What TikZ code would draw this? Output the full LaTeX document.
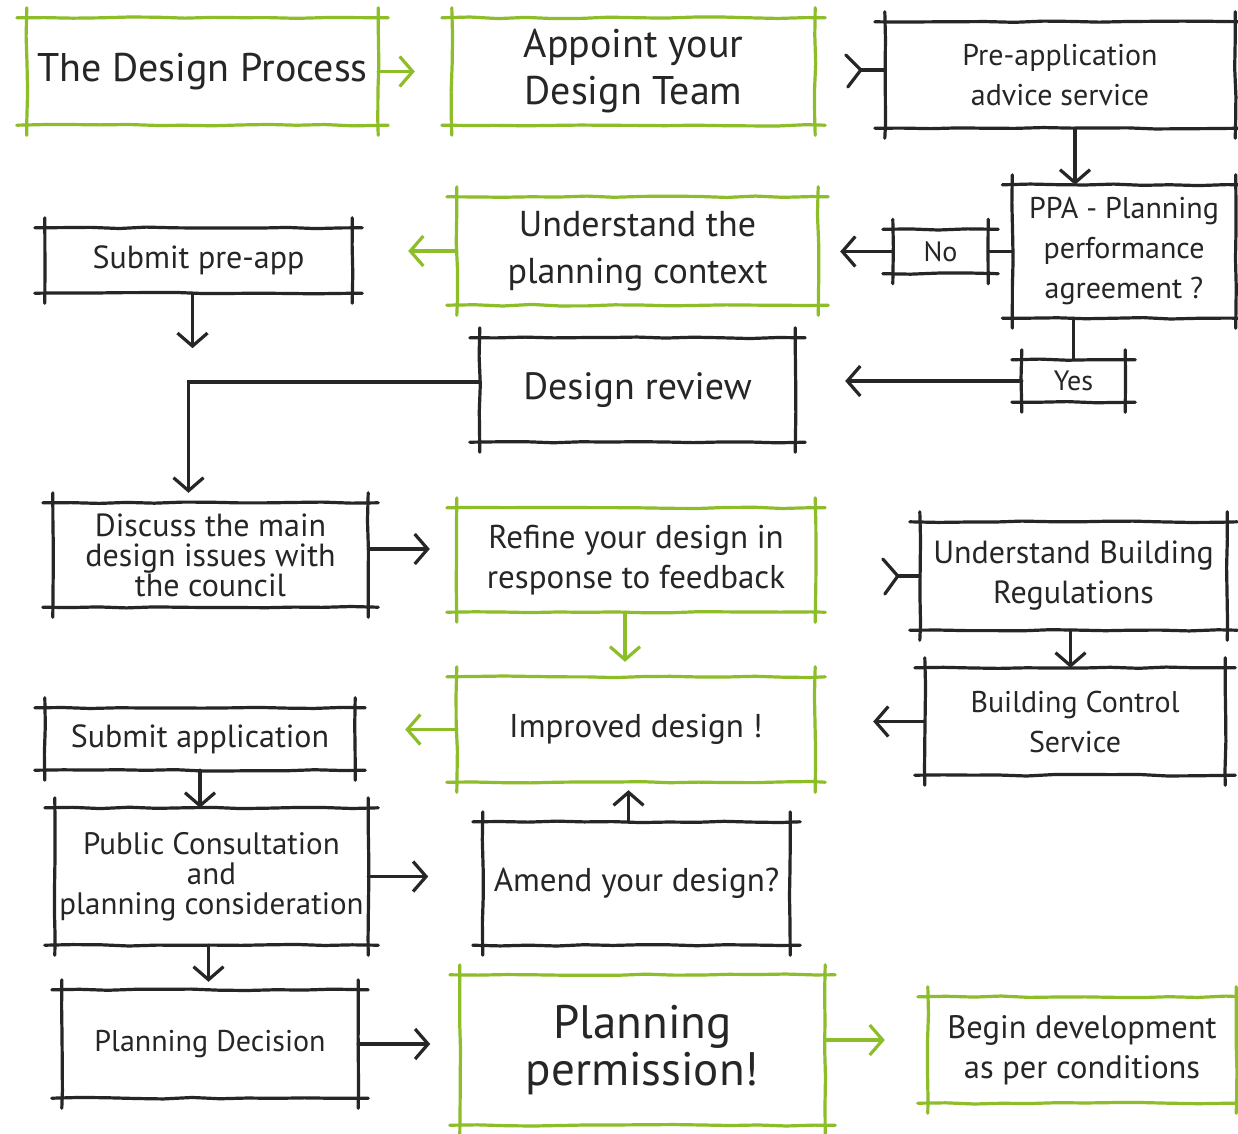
\documentclass[tikz,border=0pt]{standalone}
\usepackage{fontspec}
\setmainfont{PT Sans}
\usetikzlibrary{arrows.meta,calc,decorations.pathmorphing}
\definecolor{ink}{RGB}{38,38,38}
\definecolor{leaf}{RGB}{141,189,41}
\newcommand{\fs}[2]{\fontsize{#1}{#2}\selectfont}
\newcommand{\skbox}[2]{%
  \draw[skline,#1] ($(#2.north west)+(-10,0)$) -- ($(#2.north east)+(10,0)$);
  \draw[skline,#1] ($(#2.south west)+(-10,0)$) -- ($(#2.south east)+(10,0)$);
  \draw[skline,#1] ($(#2.north west)+(0,-10)$) -- ($(#2.south west)+(0,10)$);
  \draw[skline,#1] ($(#2.north east)+(0,-10)$) -- ($(#2.south east)+(0,10)$);}
\pgfmathsetseed{7}
\tikzset{
  bx/.style={draw=none, inner sep=0pt, align=center, text=ink},
  skline/.style={line width=3.2pt, line cap=round, line join=round,
    decorate, decoration={random steps, segment length=28pt, amplitude=0.8pt}},
  ln/.style={draw=ink, line width=3.2pt, line cap=round},
  arr/.style={ln, -{Straight Barb[length=13pt,width=30pt]}},
  garr/.style={arr, draw=leaf},
}
\begin{document}
\begin{tikzpicture}[x=1pt,y=-1pt]
\useasboundingbox (0,0) rectangle (1238,1133);
\fill[white] (0,0) rectangle (1238,1133);

% nodes
\node[bx, minimum width=351pt, minimum height=107pt, font=\fs{40}{47}] (dp) at (202.5,71.5) {The Design Process};
\node[bx, minimum width=363pt, minimum height=107pt, font=\fs{40}{47}] (at) at (633.5,71.5) {Appoint your\\Design Team};
\node[bx, minimum width=350pt, minimum height=106pt, font=\fs{30}{40}] (pa) at (1060,75) {Pre-application\\advice service};
\node[bx, minimum width=223pt, minimum height=133pt, font=\fs{30}{40}] (ppa) at (1124,251.5) {PPA - Planning\\performance\\agreement ?};
\node[bx, minimum width=95pt, minimum height=44pt, font=\fs{28}{34}] (no) at (940.5,251.5) {No};
\node[bx, minimum width=361pt, minimum height=108pt, font=\fs{36}{47}] (upc) at (637.5,251) {Understand the\\planning context};
\node[bx, minimum width=307pt, minimum height=65pt, font=\fs{32}{40}] (spa) at (198.5,260.5) {Submit pre-app};
\node[bx, minimum width=315pt, minimum height=104pt, font=\fs{38}{47}] (dr) at (637.5,390) {Design review};
\node[bx, minimum width=103pt, minimum height=42pt, font=\fs{28}{34}] (yes) at (1073.5,381) {Yes};
\node[bx, minimum width=315pt, minimum height=104pt, font=\fs{32}{30}] (dis) at (210.5,555) {Discuss the main\\design issues with\\the council};
\node[bx, minimum width=358pt, minimum height=104pt, font=\fs{33}{40}] (ref) at (636,560) {Refine your design in\\response to feedback};
\node[bx, minimum width=307pt, minimum height=108pt, font=\fs{32}{40}] (ubr) at (1073.5,576) {Understand Building\\Regulations};
\node[bx, minimum width=358pt, minimum height=105pt, font=\fs{33}{40}] (imp) at (636,729.5) {Improved design !};
\node[bx, minimum width=300pt, minimum height=107pt, font=\fs{30}{40}] (bcs) at (1075,721.5) {Building Control\\Service};
\node[bx, minimum width=310pt, minimum height=62pt, font=\fs{32}{40}] (sap) at (200,739) {Submit application};
\node[bx, minimum width=313pt, minimum height=137pt, font=\fs{31}{30}] (pcc) at (211.5,876.5) {Public Consultation\\and\\planning consideration};
\node[bx, minimum width=307pt, minimum height=123pt, font=\fs{33}{40}] (amd) at (636.5,883.5) {Amend your design?};
\node[bx, minimum width=296pt, minimum height=108pt, font=\fs{30}{40}] (pd) at (210,1044) {Planning Decision};
\node[bx, minimum width=365pt, minimum height=150pt, font=\fs{47}{47}] (pp) at (642.5,1050) {Planning\\permission!};
\node[bx, minimum width=308pt, minimum height=106pt, font=\fs{32.5}{40}] (beg) at (1082,1050) {Begin development\\as per conditions};

% sketchy frames
\skbox{leaf}{dp}
\skbox{leaf}{at}
\skbox{ink}{pa}
\skbox{ink}{ppa}
\skbox{ink}{no}
\skbox{leaf}{upc}
\skbox{ink}{spa}
\skbox{ink}{dr}
\skbox{ink}{yes}
\skbox{ink}{dis}
\skbox{leaf}{ref}
\skbox{ink}{ubr}
\skbox{leaf}{imp}
\skbox{ink}{bcs}
\skbox{ink}{sap}
\skbox{ink}{pcc}
\skbox{ink}{amd}
\skbox{ink}{pd}
\skbox{leaf}{pp}
\skbox{leaf}{beg}

% connectors
\draw[garr, shorten >=37pt] (dp.east) -- (at.west);
\draw[ln] ([yshift=5pt]pa.west) -- ++(-24,0) coordinate (fk1);
\draw[ln] (fk1) -- ++(-15,-15);
\draw[ln] (fk1) -- ++(-13,17);
\draw[arr] ([xshift=15pt]pa.south) -- ([xshift=15pt]pa.south |- ppa.north);
\draw[ln] (ppa.west) -- (no.east);
\draw[arr, shorten >=22pt] (no.west) -- (no.west -| upc.east);
\draw[ln] (yes.north |- ppa.south) -- (yes.north);
\draw[arr, shorten >=50pt] (yes.west) -- (yes.west -| dr.east);
\draw[garr, shorten >=56pt] (upc.west) -- (upc.west -| spa.east);
\draw[arr] ([xshift=-6pt]spa.south) -- ++(0,55);
\draw[arr, shorten >=10pt] ([yshift=8pt]dr.west) -| ([xshift=-22pt]dis.north);
\draw[arr, shorten >=27pt] ([yshift=6pt]dis.east) -- ([yshift=6pt]dis.east -| ref.west);
\draw[garr, shorten >=15pt] ([xshift=-11pt]ref.south) -- ([xshift=-11pt]imp.north);
\draw[ln] (ubr.west) -- ++(-22,0) coordinate (fk2);
\draw[ln] (fk2) -- ++(-15,-17);
\draw[ln] (fk2) -- ++(-13,18);
\draw[arr] ([xshift=-3pt]ubr.south) -- ([xshift=-3pt]ubr.south |- bcs.north);
\draw[arr, shorten >=58pt] (bcs.west) -- (bcs.west -| imp.east);
\draw[garr, shorten >=50pt] (imp.west) -- (imp.west -| sap.east);
\draw[arr] (sap.south) -- (sap.south |- pcc.north);
\draw[arr] (pcc.east) -- ++(60,0);
\draw[arr, shorten >=8pt] ([xshift=-8pt]amd.north) -- ([xshift=-8pt]amd.north |- imp.south);
\draw[arr, shorten >=8pt] ([xshift=-3pt]pcc.south) -- ([xshift=-3pt]pcc.south |- pd.north);
\draw[arr] (pd.east) -- ++(72,0);
\draw[garr, shorten >=43pt] ([yshift=10pt]pp.east) -- ([yshift=10pt]pp.east -| beg.west);
\end{tikzpicture}
\end{document}
